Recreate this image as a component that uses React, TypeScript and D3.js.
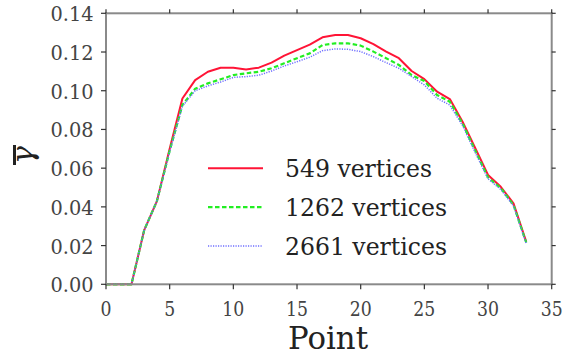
import React from "react";
import * as d3 from "d3";

const points = d3.range(0, 34);
const series549 = [0, 0, 0, 0.028, 0.043, 0.070, 0.096, 0.1055, 0.1098, 0.1119, 0.1119, 0.111, 0.1119, 0.1145, 0.1181, 0.121, 0.1238, 0.1276, 0.1288, 0.1288, 0.1271, 0.1241, 0.1202, 0.1168, 0.1102, 0.106, 0.0995, 0.0957, 0.084, 0.0703, 0.0565, 0.0504, 0.0418, 0.022];
const series1262 = [0, 0, 0, 0.028, 0.043, 0.069, 0.0926, 0.101, 0.1038, 0.1059, 0.1081, 0.109, 0.1098, 0.1116, 0.1142, 0.1168, 0.1193, 0.1236, 0.1245, 0.1245, 0.1233, 0.1202, 0.1168, 0.1133, 0.1081, 0.105, 0.0978, 0.0943, 0.083, 0.069, 0.0552, 0.0497, 0.041, 0.0215];
const series2661 = [0, 0, 0, 0.028, 0.043, 0.0685, 0.092, 0.100, 0.1025, 0.1045, 0.1069, 0.1073, 0.108, 0.1102, 0.1128, 0.115, 0.1173, 0.1207, 0.1216, 0.1214, 0.1202, 0.1176, 0.1145, 0.1116, 0.1073, 0.103, 0.0961, 0.0926, 0.082, 0.068, 0.0545, 0.049, 0.0405, 0.021];
const legendLabels = ["549 vertices", "1262 vertices", "2661 vertices"];
const xTicks = [0, 5, 10, 15, 20, 25, 30, 35];
const yTicks = [0, 0.02, 0.04, 0.06, 0.08, 0.1, 0.12, 0.14];

const W = 565, H = 358;
const L = 106, R = 551.7, T = 13.3, B = 284.3;
const FONT = "DejaVu Serif, Liberation Serif, serif";

export default function App() {
  const x = d3.scaleLinear().domain([0, 35]).range([L, R]);
  const y = d3.scaleLinear().domain([0, 0.14]).range([B, T]);
  const line = d3.line<number>().x((_, i) => x(points[i])).y((d) => y(d));
  const styles = [
    { color: "#ff1436", width: 2, dash: "none", data: series549 },
    { color: "#22ee22", width: 2.2, dash: "4.5,2.5", data: series1262 },
    { color: "#6f6fff", width: 1.5, dash: "1.2,1.3", data: series2661 },
  ];
  const legendW = [147, 162, 162];
  return (
    <svg width={W} height={H} style={{ position: "absolute", left: 0, top: 0, background: "#fff" }}>
      {styles.map((s, i) => (
        <path key={i} d={line(s.data) || ""} fill="none" stroke={s.color} strokeWidth={s.width} strokeDasharray={s.dash} strokeLinejoin="round" />
      ))}
      <rect x={L} y={T} width={R - L} height={B - T} fill="none" stroke="#8a8a8a" strokeWidth={2} />
      {xTicks.map((t) => (
        <g key={"x" + t}>
          <line x1={x(t)} x2={x(t)} y1={B} y2={B + 5} stroke="#333" strokeWidth={1.2} />
          <line x1={x(t)} x2={x(t)} y1={T} y2={T - 4} stroke="#333" strokeWidth={1.2} />
          <text x={x(t)} y={315.5} textAnchor="middle" fontFamily={FONT} fontSize={21} fill="#444" textLength={t >= 10 ? 22 : 11} lengthAdjust="spacingAndGlyphs">{t}</text>
        </g>
      ))}
      {yTicks.map((t) => (
        <g key={"y" + t}>
          <line x1={L} x2={L - 5} y1={y(t)} y2={y(t)} stroke="#333" strokeWidth={1.2} />
          <line x1={R} x2={R + 4} y1={y(t)} y2={y(t)} stroke="#333" strokeWidth={1.2} />
          <text x={93.5} y={y(t) + 8} textAnchor="end" fontFamily={FONT} fontSize={21} fill="#444" textLength={43} lengthAdjust="spacingAndGlyphs">{t.toFixed(2)}</text>
        </g>
      ))}
      <text x={328} y={349} textAnchor="middle" fontFamily={FONT} fontSize={31} fill="#222" textLength={80} lengthAdjust="spacingAndGlyphs">Point</text>
      <g transform="translate(33,155) rotate(-90)">
        <text x={0} y={0} textAnchor="middle" fontFamily={FONT} fontSize={30} fontStyle="italic" fill="#222">γ</text>
      </g>
      <rect x={13} y={145} width={3} height={20} fill="#222" />
      {styles.map((s, i) => (
        <g key={"lg" + i}>
          <line x1={208} x2={263} y1={168.3 + i * 38.9} y2={168.3 + i * 38.9} stroke={s.color} strokeWidth={s.width} strokeDasharray={s.dash} />
          <text x={285} y={177.3 + i * 38.9} fontFamily={FONT} fontSize={25} fill="#222" textLength={legendW[i]} lengthAdjust="spacingAndGlyphs">{legendLabels[i]}</text>
        </g>
      ))}
    </svg>
  );
}
